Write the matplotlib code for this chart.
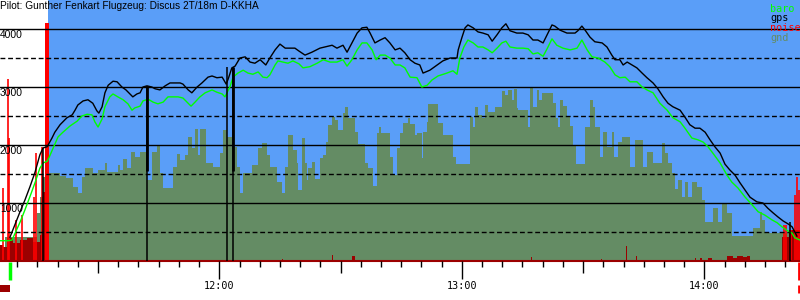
import numpy as np
import matplotlib
matplotlib.use('Agg')
import matplotlib.pyplot as plt

# all times are minutes after 11:00, heights in metres
title = 'Pilot: Gunther Fenkart Flugzeug: Discus 2T/18m D-KKHA'
t_start = 5.74      # left edge of the trace
t_end = 203.66      # right edge of the trace
release_min = 17.6  # flight part (blue background) starts here

gps_track = [(8.2, 410), (9.4, 620), (10.7, 850), (11.9, 1050), (13.2, 1290), (14.4, 1530), (15.6, 1830),
             (16.4, 1950), (17.4, 1970), (18.6, 2120), (19.3, 2220), (20.6, 2350), (22.3, 2470), (23.6, 2520),
             (24.3, 2600), (25.0, 2690), (26.3, 2760), (27.5, 2780), (28.7, 2720), (29.7, 2590), (30.2, 2550),
             (31.0, 2660), (31.7, 2900), (32.5, 3030), (33.7, 3100), (34.7, 3090), (35.9, 3000), (36.9, 2950),
             (37.9, 2880), (38.6, 2830), (39.6, 2880), (40.4, 2900), (41.1, 3000), (42.1, 3020), (43.3, 3000),
             (44.1, 2970), (45.3, 2950), (46.6, 3020), (47.8, 3070), (49.0, 3070), (50.3, 3070), (51.0, 3050),
             (52.3, 2950), (53.2, 2900), (54.5, 3000), (55.7, 3070), (57.2, 3170), (58.2, 3190), (59.4, 3160),
             (60.7, 3170), (61.7, 3050), (62.2, 3140), (63.1, 3330), (63.9, 3360), (65.1, 3500), (66.4, 3520),
             (67.6, 3430), (68.8, 3410), (70.1, 3470), (71.5, 3380), (72.5, 3500), (73.8, 3640), (75.0, 3740),
             (76.3, 3670), (77.5, 3670), (78.7, 3670), (79.7, 3620), (81.2, 3550), (82.9, 3600), (84.9, 3670),
             (86.1, 3690), (87.9, 3720), (89.1, 3670), (90.6, 3720), (91.6, 3600), (92.8, 3760), (94.1, 3930),
             (95.3, 4020), (96.5, 4030), (97.3, 3930), (98.5, 3760), (99.8, 3810), (101.0, 3850), (102.2, 3760),
             (103.5, 3640), (104.7, 3670), (105.9, 3590), (107.2, 3470), (108.4, 3410), (109.6, 3380),
             (110.4, 3240), (112.1, 3290), (113.9, 3380), (115.3, 3450), (117.1, 3500), (118.8, 3500),
             (119.1, 3640), (120.0, 3850), (120.8, 4020), (121.5, 4070), (122.8, 4020), (124.0, 3950),
             (125.2, 3930), (126.5, 3900), (127.5, 3790), (128.7, 3900), (129.9, 4020), (130.9, 4090),
             (131.9, 3970), (133.6, 3930), (135.1, 3930), (136.4, 3900), (137.6, 3810), (138.8, 3810),
             (140.1, 3760), (141.1, 3900), (142.3, 4070), (143.0, 4050), (144.3, 3980), (146.0, 3930),
             (148.0, 3930), (148.7, 3970), (149.7, 4050), (150.5, 3980), (151.7, 3860), (152.9, 3780),
             (154.7, 3760), (155.9, 3690), (157.1, 3550), (157.9, 3470), (159.1, 3470), (159.9, 3380),
             (160.9, 3430), (162.1, 3380), (163.3, 3330), (164.6, 3240), (165.8, 3160), (167.3, 3070),
             (168.5, 2970), (169.8, 2830), (171.0, 2720), (172.2, 2660), (174.0, 2600), (175.2, 2480),
             (176.4, 2350), (177.7, 2290), (178.9, 2290), (180.2, 2220), (181.4, 2090), (182.6, 1970),
             (183.9, 1860), (185.1, 1670), (186.3, 1570), (187.6, 1480), (188.8, 1350), (190.1, 1220),
             (191.3, 1100), (193.0, 1020), (194.5, 1000), (195.7, 910), (197.0, 830), (198.2, 760),
             (199.5, 690), (200.7, 640), (201.7, 590), (202.9, 430)]

baro_track = [(5.7, 350), (7.7, 350), (8.7, 360), (10.7, 670), (11.9, 880), (13.2, 1120), (14.4, 1350),
              (15.6, 1600), (16.4, 1690), (17.4, 1720), (17.9, 1790), (18.9, 1950), (20.1, 2140), (21.3, 2220),
              (23.1, 2330), (24.8, 2410), (26.0, 2500), (27.3, 2530), (28.5, 2520), (29.2, 2400), (30.0, 2310),
              (31.0, 2450), (31.7, 2660), (32.9, 2830), (33.7, 2880), (34.9, 2830), (36.2, 2780), (37.4, 2710),
              (38.4, 2600), (39.1, 2640), (40.4, 2670), (41.1, 2760), (42.4, 2790), (43.6, 2740), (44.8, 2710),
              (46.1, 2740), (47.3, 2830), (48.5, 2830), (49.8, 2830), (51.0, 2810), (52.0, 2740), (53.0, 2670),
              (54.0, 2740), (55.2, 2830), (56.5, 2900), (58.2, 2950), (59.4, 2910), (60.7, 2880), (61.4, 2830),
              (62.6, 3000), (63.4, 3170), (64.6, 3240), (65.9, 3290), (67.1, 3240), (68.3, 3220), (69.6, 3260),
              (70.8, 3170), (71.8, 3160), (72.5, 3210), (73.8, 3380), (74.5, 3450), (75.8, 3430), (77.0, 3410),
              (78.2, 3450), (79.7, 3400), (80.7, 3330), (82.4, 3350), (84.2, 3410), (85.7, 3470), (87.4, 3430),
              (89.1, 3430), (90.6, 3470), (91.6, 3360), (92.8, 3470), (94.1, 3640), (95.3, 3760), (96.5, 3760),
              (97.8, 3640), (98.8, 3470), (99.8, 3550), (101.0, 3550), (102.2, 3500), (103.5, 3380),
              (104.7, 3380), (105.9, 3330), (107.2, 3170), (108.9, 3160), (110.1, 3000), (111.4, 3030),
              (112.6, 3120), (114.1, 3190), (116.3, 3240), (117.8, 3280), (118.8, 3220), (119.5, 3500),
              (120.5, 3690), (121.5, 3810), (122.8, 3760), (124.0, 3690), (125.2, 3690), (126.5, 3640),
              (127.5, 3590), (128.7, 3670), (129.9, 3760), (130.9, 3790), (131.9, 3690), (133.6, 3670),
              (135.1, 3670), (136.4, 3660), (137.6, 3570), (138.8, 3590), (140.1, 3530), (141.1, 3660),
              (142.3, 3830), (143.5, 3720), (145.0, 3670), (146.8, 3640), (148.5, 3670), (149.7, 3810),
              (151.0, 3640), (152.2, 3520), (153.7, 3500), (155.4, 3430), (156.6, 3350), (157.9, 3210),
              (159.1, 3160), (160.4, 3170), (161.6, 3090), (163.3, 3090), (164.6, 3000), (165.8, 2950),
              (167.3, 2900), (169.0, 2720), (170.8, 2600), (172.2, 2470), (174.0, 2400), (175.2, 2290),
              (176.9, 2120), (178.4, 2090), (179.7, 2050), (180.9, 1970), (182.1, 1860), (183.9, 1690),
              (185.6, 1480), (186.8, 1360), (188.3, 1260), (190.1, 1100), (191.8, 970), (193.3, 850),
              (195.0, 790), (196.7, 710), (198.0, 660), (199.2, 590), (200.4, 530), (201.7, 480),
              (202.4, 400), (203.7, 360)]

# ground elevation, stepwise (start minute, height)
gnd_steps = [(7.0, 410), (14.9, 830), (15.6, 1100), (16.4, 1450), (17.9, 1520), (20.6, 1470), (22.1, 1430),
             (23.8, 1280), (25.0, 1170), (26.0, 1450), (26.8, 1600), (28.7, 1520), (30.0, 1570), (31.7, 1690),
             (32.2, 1530), (34.9, 1660), (35.4, 1570), (36.2, 1760), (37.2, 1600), (38.1, 1880), (39.1, 1790),
             (40.4, 1880), (42.1, 1400), (43.3, 1880), (44.6, 1980), (45.3, 1520), (46.1, 1260), (48.5, 1620),
             (49.5, 1850), (50.3, 1740), (51.5, 1830), (52.3, 2140), (53.2, 1950), (54.0, 2280), (54.7, 1830),
             (55.2, 2280), (56.7, 1690), (58.4, 1620), (60.2, 1860), (60.9, 2260), (61.9, 2140), (63.1, 1970),
             (64.4, 1620), (65.1, 1170), (65.9, 1520), (68.1, 1660), (69.6, 1950), (70.6, 2030), (71.8, 1830),
             (72.5, 1620), (74.3, 1360), (75.5, 1170), (76.3, 1620), (77.0, 2170), (78.2, 1910), (79.2, 1690),
             (79.5, 1220), (80.5, 2120), (81.2, 1690), (81.7, 1400), (81.9, 1600), (82.9, 1710), (83.7, 1410),
             (84.9, 1780), (85.7, 1830), (86.4, 2050), (86.9, 2350), (87.9, 2480), (88.6, 2430), (89.4, 2260),
             (90.6, 2550), (91.1, 2660), (91.8, 2470), (93.6, 2220), (94.3, 2020), (96.0, 1690), (96.8, 1600),
             (98.0, 1290), (99.0, 2210), (99.5, 2310), (100.0, 2210), (102.2, 1790), (103.0, 1480),
             (104.0, 1950), (104.7, 2210), (105.4, 2380), (106.7, 2470), (107.2, 2370), (108.4, 2170),
             (108.9, 2210), (110.1, 1780), (110.4, 2220), (111.4, 2400), (111.6, 2710), (114.1, 2380),
             (115.3, 2170), (117.8, 1790), (118.6, 1670), (122.0, 2480), (122.8, 2310), (123.3, 2660),
             (124.0, 2520), (125.0, 2470), (125.7, 2690), (126.5, 2570), (128.2, 2660), (130.0, 2930),
             (130.7, 2860), (131.4, 2950), (132.4, 2780), (132.9, 2970), (133.6, 2640), (133.9, 2600),
             (136.4, 2310), (136.9, 2980), (137.6, 2660), (138.6, 2950), (139.1, 2780), (139.8, 2900),
             (142.6, 2720), (143.3, 2470), (143.8, 2310), (144.3, 2780), (145.0, 2670), (146.0, 2500),
             (146.8, 2330), (147.5, 2000), (148.2, 1670), (150.5, 2310), (151.7, 2780), (152.5, 2660),
             (152.9, 2310), (154.2, 1790), (154.9, 2220), (155.9, 1970), (157.2, 2220), (157.6, 1790),
             (158.6, 2050), (159.6, 2140), (161.6, 1620), (162.8, 2090), (164.8, 1620), (165.8, 1880),
             (167.3, 1690), (169.5, 2030), (170.3, 1860), (171.0, 1690), (172.0, 1520), (172.7, 1240),
             (173.5, 1400), (174.5, 1100), (175.2, 1360), (176.0, 1100), (177.0, 1360), (178.2, 1280),
             (179.4, 1050), (180.2, 670), (182.1, 910), (183.4, 670), (184.4, 980), (185.6, 830),
             (186.8, 430), (192.0, 570), (193.8, 850), (194.3, 710), (195.0, 480), (203.7, 480)]

# noise level (dark red, stepwise) and the loud spikes (bright red)
noise_steps = [(5.7, 280), (6.5, 240), (7.5, 400), (9.0, 310), (10.7, 360), (12.4, 400), (13.9, 330),
               (15.6, 450), (16.4, 1190), (17.9, 0), (75.4, 35), (75.7, 0), (87.8, 100), (88.1, 0),
               (92.9, 90), (93.6, 0), (94.2, 50), (94.4, 0), (137.0, 70), (137.3, 0), (154.4, 35), (154.6, 0),
               (160.5, 260), (160.8, 0), (163.2, 90), (163.4, 0), (177.7, 50), (178.0, 0), (179.0, 50),
               (179.5, 0), (181.0, 50), (181.8, 0), (185.6, 90), (187.0, 60), (188.0, 90), (189.5, 70),
               (190.5, 90), (191.3, 0), (199.2, 410), (200.9, 530), (203.7, 530)]
spike_min = [6.5, 7.6, 8.0, 9.7, 11.2, 14.2, 14.6, 16.1, 199.8, 200.3, 201.4, 202.4, 202.9, 203.4]
spike_lvl = [1260, 3140, 2120, 710, 790, 1100, 1860, 1970, 620, 620, 530, 1140, 1450, 1220]
release_noise = 4100

# black event markers (minute, top)
marker_min = [16.4, 42.1, 62.0, 63.4, 201.1]
marker_top = [1950, 3020, 3350, 3350, 670]
launch_min = 8.2
landing_min = 203.4

BLUE = '#5a9ef8'
GND = '#648c64'
DRED = '#9c0000'
RED = '#ff0000'
GREEN = '#00ff00'

px = 1000 / 58.0  # metres per pixel

fig = plt.figure(figsize=(8, 3), dpi=100)
ax = fig.add_axes([0, 0, 1, 1])
ax.set_xlim(t_start, t_end)
ax.set_ylim(-672, 4500)
ax.axis('off')

ax.fill_between([release_min, t_end], 0, 4500, color=BLUE, lw=0, zorder=0)

gt, gh = np.array(gnd_steps).T
ax.fill_between(gt, 0, gh, step='post', color=GND, lw=0, zorder=1)

nt, nv = np.array(noise_steps).T
ax.fill_between(nt, 0, nv, step='post', color=DRED, lw=0, zorder=2)
ax.vlines(spike_min, 0, spike_lvl, color=RED, lw=1.2, zorder=3)
ax.bar(release_min - 0.3, release_noise, width=0.9, color=RED, lw=0, zorder=3)

for a in (1000, 2000, 3000, 4000):
    ax.axhline(a, color='black', lw=1, zorder=4)
for a in (500, 1500, 2500, 3500):
    ax.axhline(a, color='black', lw=1, ls=(0, (3.5, 2)), zorder=4)
ax.axhline(0, color=DRED, lw=1.5, zorder=5)

bt, bh = np.array(baro_track).T
ax.plot(bt, bh, color=GREEN, lw=1, zorder=6)
pt, ph = np.array(gps_track).T
ax.plot(pt, ph, color='black', lw=1, zorder=7)

ax.vlines(marker_min, 0, marker_top, color='black', lw=1.1, zorder=8)
ax.vlines(marker_min[1:4:2], 1550, marker_top[1:4:2], color='black', lw=2, zorder=8)

# time axis ticks every 5 minutes
for m in range(10, 205, 5):
    if m > t_end:
        break
    L = 18 if m % 60 == 0 else (12 if m % 30 == 0 else 6)
    ax.vlines(m, -L * px, 0, color='black', lw=1, zorder=5)
    if m % 60 == 0:
        ax.text(m, -25 * px, '%d:00' % (11 + m // 60), ha='center', va='center',
                family='DejaVu Sans Mono', size=7.3)

# start / landing markers below the axis
ax.vlines(launch_min, -19 * px, -1 * px, color=GREEN, lw=2.5, zorder=5)
ax.fill_between([t_start, launch_min], -31 * px, -24 * px, color=DRED, lw=0)
ax.vlines(landing_min, -19 * px, -1 * px, color=RED, lw=2, zorder=5)
ax.vlines(landing_min, -32 * px, -24 * px, color=RED, lw=2, zorder=5)

# altitude labels
ytr = ax.get_yaxis_transform()
for a in (1000, 2000, 3000, 4000):
    ax.text(0.0, a - 1 * px, str(a), transform=ytr, ha='left', va='top',
            family='Liberation Sans', size=7.4, zorder=9)

fig.text(0.0, 1 - 1 / 300, title, ha='left', va='top', family='Liberation Sans', size=7.3)

legend = [('baro', GREEN), ('gps', 'black'), ('noise', RED), ('gnd', GND)]
for i, (name, col) in enumerate(legend):
    fig.text(770 / 800, 1 - (11.5 + 9.8 * i) / 300, name, color=col, ha='left', va='baseline',
             family='DejaVu Sans Mono', size=7.3)

fig.savefig('out.png', dpi=100)
